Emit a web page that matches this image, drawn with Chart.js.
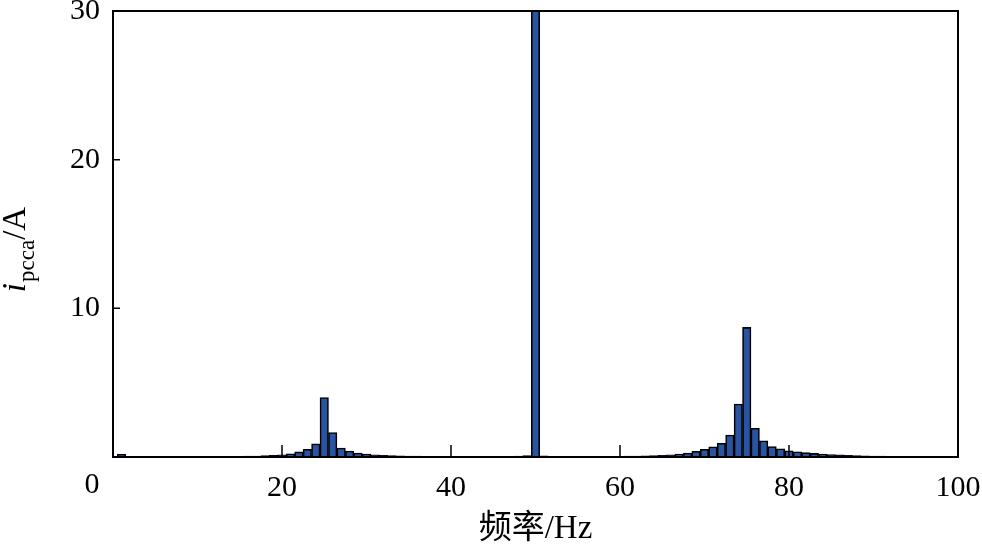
<!DOCTYPE html>
<html>
<head>
<meta charset="utf-8">
<script src="https://cdn.jsdelivr.net/npm/chart.js@4.4.1/dist/chart.umd.min.js"></script>
<style>
  html, body { margin: 0; padding: 0; background: #fff; }
  #wrap { width: 982px; height: 550px; }
</style>
</head>
<body>
<div id="wrap"><canvas id="myChart" width="982" height="550"></canvas></div>
<script>
// frequency bins (Hz)
const freqs = [];
for (let f = 1; f <= 99; f++) freqs.push(f);

// current amplitude per bin (A)
const amps = [
  0.18, 0.04, 0.02, 0.02, 0.02, 0.02, 0.02, 0.02, 0.03, 0.03,   // 1-10
  0.03, 0.04, 0.04, 0.05, 0.05, 0.06, 0.07, 0.09, 0.11, 0.15,   // 11-20
  0.22, 0.34, 0.52, 0.88, 4.00, 1.65, 0.60, 0.40, 0.27, 0.20,   // 21-30
  0.15, 0.12, 0.10, 0.08, 0.07, 0.06, 0.05, 0.05, 0.04, 0.04,   // 31-40
  0.04, 0.03, 0.03, 0.03, 0.03, 0.04, 0.04, 0.06, 0.10, 40.0,   // 41-50
  0.08, 0.05, 0.04, 0.03, 0.03, 0.03, 0.04, 0.04, 0.05, 0.05,   // 51-60
  0.06, 0.07, 0.08, 0.10, 0.12, 0.15, 0.20, 0.27, 0.38, 0.52,   // 61-70
  0.68, 0.92, 1.48, 3.56, 8.72, 1.93, 1.08, 0.70, 0.55, 0.42,   // 71-80
  0.35, 0.29, 0.24, 0.20, 0.17, 0.14, 0.12, 0.10, 0.08, 0.07,   // 81-90
  0.06, 0.05, 0.04, 0.04, 0.04, 0.04, 0.03, 0.03, 0.03          // 91-99
];

const xTicks = [0, 20, 40, 60, 80, 100];
const yTicks = [0, 10, 20, 30];

const serif = "'Liberation Serif', 'DejaVu Serif', serif";
const titleFont = "'Liberation Serif', 'Noto Sans CJK SC', serif";

// frame, inward ticks, the lone "0" and the y title with subscript
const framePlugin = {
  id: 'frame',
  afterDraw(chart) {
    const { ctx, chartArea: a, scales } = chart;
    ctx.save();
    ctx.strokeStyle = '#000';
    ctx.lineWidth = 2;
    ctx.strokeRect(a.left, a.top, a.right - a.left, a.bottom - a.top);

    ctx.lineWidth = 1.5;
    ctx.beginPath();
    xTicks.slice(1, -1).forEach(v => {
      const px = scales.x.getPixelForValue(v);
      ctx.moveTo(px, a.bottom);
      ctx.lineTo(px, a.bottom - 12);
    });
    yTicks.slice(1, -1).forEach(v => {
      const py = scales.y.getPixelForValue(v);
      ctx.moveTo(a.left, py);
      ctx.lineTo(a.left + 7, py);
    });
    ctx.stroke();

    ctx.fillStyle = '#000';
    ctx.font = '30px ' + serif;
    ctx.textAlign = 'center';
    ctx.textBaseline = 'top';
    ctx.fillText('0', a.left - 21, a.bottom + 13);

    // y axis title: i_pcca/A
    ctx.translate(25, 250);
    ctx.rotate(-Math.PI / 2);
    ctx.textAlign = 'left';
    ctx.textBaseline = 'alphabetic';
    const mainI = 'italic 33px ' + serif;
    const main = '33px ' + serif;
    const sub = '23px ' + serif;
    ctx.font = mainI; const wI = ctx.measureText('i').width;
    ctx.font = sub; const wS = ctx.measureText('pcca').width;
    ctx.font = main; const wA = ctx.measureText('/A').width;
    let x = -(wI + wS + wA) / 2;
    ctx.font = mainI; ctx.fillText('i', x, 0); x += wI + 1;
    ctx.font = sub; ctx.fillText('pcca', x, 9); x += wS;
    ctx.font = main; ctx.fillText('/A', x, 0);
    ctx.restore();
  }
};

const ctx = document.getElementById('myChart').getContext('2d');
const myChart = new Chart(ctx, {
  type: 'bar',
  data: {
    datasets: [{
      data: freqs.map((f, i) => ({ x: f, y: amps[i] })),
      backgroundColor: '#2a54a2',
      borderColor: '#000',
      borderWidth: 1.6,
      barPercentage: 1,
      categoryPercentage: 1
    }]
  },
  options: {
    responsive: false,
    animation: false,
    layout: { padding: { left: 0, right: 24, top: 11, bottom: 0 } },
    plugins: { legend: { display: false }, tooltip: { enabled: false } },
    scales: {
      x: {
        type: 'linear',
        min: 0,
        max: 100,
        offset: false,
        grid: { display: false, drawTicks: false },
        border: { display: false },
        afterBuildTicks: s => { s.ticks = xTicks.map(v => ({ value: v })); },
        afterFit: s => { s.height = 93; s.paddingLeft = 0; s.paddingRight = 0; },
        ticks: {
          maxRotation: 0,
          autoSkip: false,
          padding: 13,
          color: '#000',
          font: { family: serif, size: 30 },
          callback: v => (v === 0 ? '' : v)
        },
        title: {
          display: true,
          text: '频率/Hz',
          color: '#000',
          padding: { top: 0, bottom: 1 },
          font: { family: titleFont, size: 33 }
        }
      },
      y: {
        min: 0,
        max: 30,
        grid: { display: false, drawTicks: false },
        border: { display: false },
        afterBuildTicks: s => { s.ticks = yTicks.map(v => ({ value: v })); },
        afterFit: s => { s.width = 113; s.paddingTop = 0; s.paddingBottom = 0; },
        ticks: {
          padding: 13,
          color: '#000',
          font: { family: serif, size: 30 },
          callback: v => (v === 0 ? '' : v)
        }
      }
    }
  },
  plugins: [framePlugin]
});
</script>
</body>
</html>
